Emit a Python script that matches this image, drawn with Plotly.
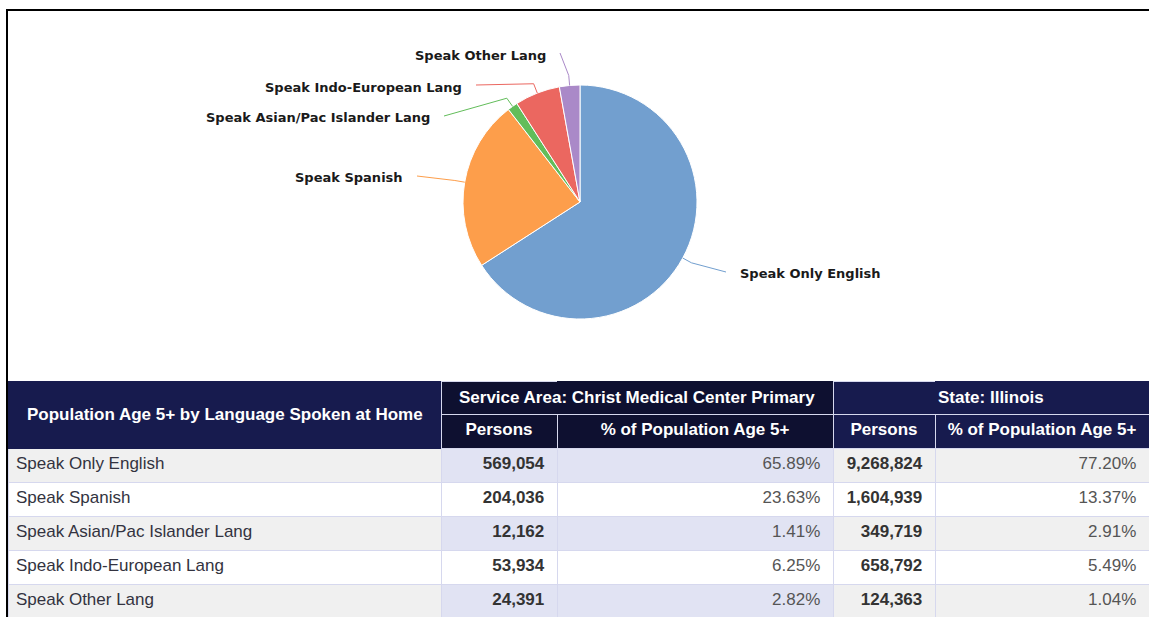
import math
import plotly.graph_objects as go

# ---------------- data ----------------
categories = [
    "Speak Only English",
    "Speak Spanish",
    "Speak Asian/Pac Islander Lang",
    "Speak Indo-European Lang",
    "Speak Other Lang",
]
sa_persons = [569054, 204036, 12162, 53934, 24391]
sa_pct = [65.89, 23.63, 1.41, 6.25, 2.82]
il_persons = [9268824, 1604939, 349719, 658792, 124363]
il_pct = [77.20, 13.37, 2.91, 5.49, 1.04]

header_title = "Population Age 5+ by Language Spoken at Home"
group_titles = ["Service Area: Christ Medical Center Primary", "State: Illinois"]
sub_titles = ["Persons", "% of Population Age 5+"]

slice_colors = ["#729fcf", "#fd9e4b", "#62bd5a", "#eb6760", "#aa89c8"]

# ---------------- layout constants ----------------
W, H = 1149, 617
CX, CY, R = 580, 202, 117          # pie centre / radius in px
# label text anchor (px) and which side of the text the connector attaches
label_layout = [
    (738, 274, "left"),
    (405, 178, "right"),
    (432, 118, "right"),
    (464, 87, "right"),
    (548, 55, "right"),
]
TABLE_TOP = 381
TABLE_LEFT = 8
col_widths = [433, 116, 276, 102, 214]
HEAD_H = 33.5
ROW_H = 34

navy = "#171b4e"
dark = "#0e1030"
grid = "#d6d8ee"
lav = "#e1e3f3"
grey = "#f0f0f0"
FONT = "Liberation Sans, Arial, sans-serif"
LBL_FONT = "DejaVu Sans, Verdana, sans-serif"
NB = "\u00a0"


def px(x):
    return x / W


def py(y):
    return 1 - y / H


fig = go.Figure()

# ---------------- pie ----------------
fig.add_trace(go.Pie(
    labels=categories,
    values=sa_persons,
    sort=False,
    direction="clockwise",
    rotation=0,
    textinfo="none",
    marker=dict(colors=slice_colors, line=dict(color="white", width=1)),
    domain=dict(x=[px(CX - R), px(CX + R)], y=[py(CY + R), py(CY - R)]),
    showlegend=False,
    hoverinfo="label+value+percent",
))

shapes = []
annotations = []
total = sum(sa_persons)
cum = 0
for i, v in enumerate(sa_persons):
    mid = (cum + v / 2) / total * 2 * math.pi
    cum += v
    sx, sy = CX + R * math.sin(mid), CY - R * math.cos(mid)
    ex, ey = CX + (R + 10) * math.sin(mid), CY - (R + 10) * math.cos(mid)
    lx, ly, side = label_layout[i]
    tx = lx + 12 if side == "right" else lx - 12
    ty = ly - 2
    shapes.append(dict(
        type="path", xref="paper", yref="paper",
        path=f"M {px(sx)},{py(sy)} L {px(ex)},{py(ey)} L {px(tx)},{py(ty)}",
        line=dict(color=slice_colors[i], width=1),
    ))
    annotations.append(dict(
        x=px(lx), y=py(ly), xref="paper", yref="paper",
        xanchor=side, yanchor="middle", showarrow=False,
        text=categories[i],
        font=dict(family=LBL_FONT, size=13, color="#1a1a1a", weight=700),
    ))

# ---------------- table ----------------
n = len(categories)
side_fill = [grey if i % 2 == 0 else "white" for i in range(n)]
sa_fill = [lav if i % 2 == 0 else "white" for i in range(n)]

fig.add_trace(go.Table(
    domain=dict(x=[px(TABLE_LEFT), 1], y=[0, py(TABLE_TOP)]),
    columnwidth=col_widths,
    header=dict(
        values=[["", ""],
                ["", sub_titles[0]],
                ["", sub_titles[1]],
                ["", sub_titles[0]],
                ["", sub_titles[1]]],
        fill_color=[[navy, navy], [dark, dark], [dark, dark], [navy, navy], [navy, navy]],
        line=dict(color=[[navy, navy], [grid, grid], [dark, grid], [grid, grid], [navy, grid]], width=1),
        align="center",
        font=dict(family=FONT, size=17, color="white", weight=700),
        height=HEAD_H,
    ),
    cells=dict(
        values=[
            categories,
            [f"{v:,}{NB}" for v in sa_persons],
            [f"{p:.2f}%{NB}" for p in sa_pct],
            [f"{v:,}{NB}" for v in il_persons],
            [f"{p:.2f}%{NB}" for p in il_pct],
        ],
        fill_color=[side_fill, sa_fill, sa_fill, side_fill, side_fill],
        line=dict(color=grid, width=1),
        align=["left", "right", "right", "right", "right"],
        font=dict(family=FONT, size=17,
                  color=["#333340", "#333333", "#555555", "#333333", "#555555"],
                  weight=[400, 700, 400, 700, 400]),
        height=ROW_H,
    ),
))

# merged header texts
edges = [TABLE_LEFT]
for w in col_widths:
    edges.append(edges[-1] + w)
annotations.append(dict(
    x=px((edges[0] + edges[1]) / 2), y=py(TABLE_TOP + HEAD_H), xref="paper", yref="paper",
    xanchor="center", yanchor="middle", showarrow=False,
    text=header_title, font=dict(family=FONT, size=17, color="white", weight=700),
))
annotations.append(dict(
    x=px((edges[1] + edges[3]) / 2), y=py(TABLE_TOP + HEAD_H / 2), xref="paper", yref="paper",
    xanchor="center", yanchor="middle", showarrow=False,
    text=group_titles[0], font=dict(family=FONT, size=17, color="white", weight=700),
))
annotations.append(dict(
    x=px((edges[3] + edges[5]) / 2), y=py(TABLE_TOP + HEAD_H / 2), xref="paper", yref="paper",
    xanchor="center", yanchor="middle", showarrow=False,
    text=group_titles[1], font=dict(family=FONT, size=17, color="white", weight=700),
))

# outer frame (left + top)
shapes.append(dict(
    type="path", xref="paper", yref="paper",
    path=f"M {px(7)},{py(H + 2)} L {px(7)},{py(10)} L {px(W + 2)},{py(10)}",
    line=dict(color="black", width=2), layer="above",
))

fig.update_layout(
    width=W, height=H,
    margin=dict(l=0, r=0, t=0, b=0),
    paper_bgcolor="white",
    plot_bgcolor="white",
    shapes=shapes,
    annotations=annotations,
    showlegend=False,
)

fig.write_html(
    "out.html",
    config={"displayModeBar": False},
    post_script="document.body.style.margin='0';document.body.style.overflow='hidden';",
)
